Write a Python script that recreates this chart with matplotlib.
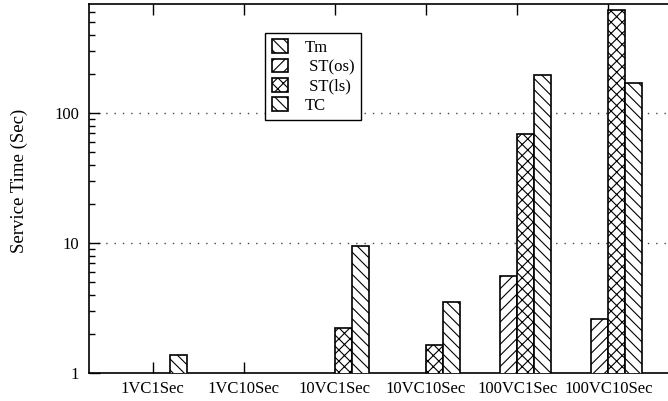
"""
Service time per configuration, log scale, hatched bars
"""
import matplotlib

matplotlib.use("Agg")
import matplotlib.pyplot as plt
import numpy as np

plt.rcParams["font.family"] = ["Liberation Serif", "DejaVu Serif"]
plt.rcParams["hatch.linewidth"] = 0.8

categories = ["1VC1Sec", "1VC10Sec", "10VC1Sec", "10VC10Sec", "100VC1Sec", "100VC10Sec"]
series_names = ["Tm", " ST(os)", " ST(ls)", "TC"]

# Tm never rises above the axis floor (1 s), so it is not visible
tm = [0.5, 0.5, 0.5, 0.5, 0.5, 0.5]
st_os = [0.5, 0.5, 0.5, 0.5, 5.57, 2.62]
st_ls = [0.5, 0.5, 2.22, 1.63, 68.6, 620.0]
tc = [1.37, 0.5, 9.5, 3.52, 197.0, 169.0]

values = [tm, st_os, st_ls, tc]
hatches = ["\\\\\\", "///", "xxx", "\\\\\\"]

fig = plt.figure(figsize=(6.68, 4.01), dpi=100)
ax = fig.add_axes([89 / 668, 1 - 373 / 401, (672 - 89) / 668, (373 - 4) / 401])

x = np.arange(len(categories))
width = 0.187
offsets = (np.arange(len(values)) - 1.5) * width

for vals, name, hatch, off in zip(values, series_names, hatches, offsets):
    ax.bar(
        x + off,
        vals,
        width,
        bottom=1e-3,
        facecolor="white",
        edgecolor="black",
        linewidth=1.2,
        hatch=hatch,
        label=name,
        zorder=3,
    )

ax.set_yscale("log")
ax.set_ylim(1, 690)
ax.set_xlim(-0.7, 5.7)

ax.set_xticks(x)
ax.set_xticklabels(categories, fontsize=12)
ax.set_yticks([1, 10, 100])
ax.set_yticklabels(["1", "10", "100"], fontsize=12)
ax.tick_params(axis="x", which="both", direction="in", top=True, length=8, width=1, pad=6)
ax.tick_params(axis="y", which="major", direction="in", length=8, width=1, pad=7)
ax.tick_params(axis="y", which="minor", direction="in", length=4, width=1)
ax.minorticks_on()
ax.tick_params(axis="x", which="minor", bottom=False, top=False)

for level in [10, 100]:
    ax.axhline(level, color="#444444", linestyle=(0, (1, 5)), linewidth=1, zorder=1)

for spine in ax.spines.values():
    spine.set_linewidth(1.2)

ax.set_ylabel("Service Time (Sec)", fontsize=13.5)
ax.yaxis.set_label_coords(-0.104, 0.52)

leg = ax.legend(
    loc="upper left",
    bbox_to_anchor=(0.302, 0.922),
    borderaxespad=0,
    fancybox=False,
    edgecolor="black",
    framealpha=1,
    fontsize=12,
    handlelength=1.0,
    handleheight=0.9,
    labelspacing=0.15,
    handletextpad=1.0,
    borderpad=0.4,
)
leg.get_frame().set_linewidth(1.0)

plt.savefig("out.png", dpi=100)
